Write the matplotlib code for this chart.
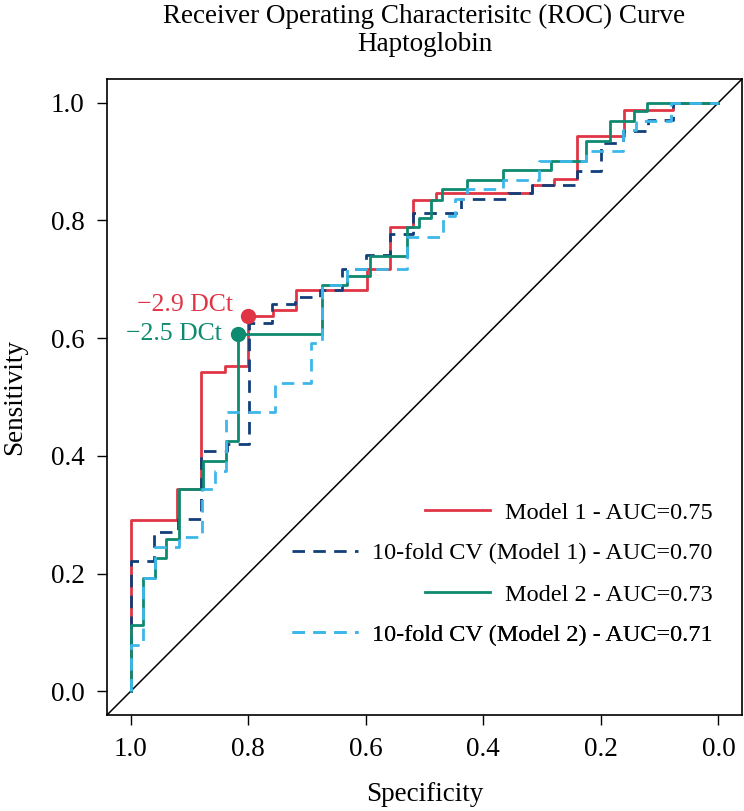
import matplotlib
matplotlib.use("Agg")
import matplotlib.pyplot as plt

plt.rcParams['font.family'] = ['Liberation Serif', 'DejaVu Serif']

# --- ROC step points (specificity, sensitivity after each step) ---
m1_spec = [1.0, 1.0, 0.921, 0.880, 0.839, 0.800, 0.758, 0.719, 0.598, 0.559, 0.519,
           0.480, 0.318, 0.279, 0.240, 0.161, 0.078, 0.0]
m1_sens = [0.0, 0.291, 0.343, 0.543, 0.553, 0.637, 0.647, 0.681, 0.717, 0.788, 0.835,
           0.847, 0.860, 0.870, 0.943, 0.988, 1.0, 1.0]

cv1_spec = [1.0, 1.0, 0.960, 0.920, 0.880, 0.836, 0.798, 0.759, 0.720, 0.677, 0.641,
            0.599, 0.559, 0.519, 0.438, 0.358, 0.318, 0.240, 0.199, 0.162, 0.120,
            0.078, 0.0]
cv1_sens = [0.0, 0.221, 0.270, 0.292, 0.409, 0.421, 0.626, 0.658, 0.669, 0.682, 0.718,
            0.741, 0.777, 0.812, 0.836, 0.847, 0.860, 0.883, 0.931, 0.952, 0.970,
            1.0, 1.0]

m2_spec = [1.0, 1.0, 0.978, 0.958, 0.939, 0.918, 0.877, 0.837, 0.817, 0.675, 0.631,
           0.593, 0.530, 0.510, 0.489, 0.470, 0.428, 0.367, 0.285, 0.225, 0.184,
           0.144, 0.122, 0.0]
m2_sens = [0.0, 0.113, 0.193, 0.227, 0.259, 0.343, 0.392, 0.426, 0.607, 0.690, 0.706,
           0.739, 0.788, 0.804, 0.835, 0.854, 0.869, 0.886, 0.900, 0.935, 0.968,
           0.985, 1.0, 1.0]

cv2_spec = [1.0, 1.0, 0.978, 0.959, 0.918, 0.878, 0.857, 0.837, 0.755, 0.693, 0.675,
            0.632, 0.530, 0.468, 0.448, 0.427, 0.366, 0.305, 0.225, 0.162, 0.140,
            0.080, 0.0]
cv2_sens = [0.0, 0.079, 0.193, 0.245, 0.262, 0.343, 0.375, 0.475, 0.524, 0.591, 0.690,
            0.718, 0.771, 0.808, 0.836, 0.853, 0.869, 0.901, 0.918, 0.954, 0.968,
            1.0, 1.0]

labels = ["Model 1 - AUC=0.75", "10-fold CV (Model 1) - AUC=0.70",
          "Model 2 - AUC=0.73", "10-fold CV (Model 2) - AUC=0.71"]
colors = ["#E03545", "#123F7A", "#0E8A70", "#3DB7EA"]

# best thresholds
cut_labels = ["\u22122.9 DCt", "\u22122.5 DCt"]
cut_spec = [0.800, 0.817]
cut_sens = [0.637, 0.607]

fig = plt.figure(figsize=(7.44, 8.11), dpi=100)
ax = fig.add_axes([107 / 744, 1 - 715 / 811, 635 / 744, 636 / 811])

ax.axline((1, 0), (0, 1), color="black", lw=1.1, zorder=1)

curves = [(m1_spec, m1_sens, "-"), (cv1_spec, cv1_sens, "--"),
          (m2_spec, m2_sens, "-"), (cv2_spec, cv2_sens, "--")]
handles = []
for (sx, sy, ls), c, lab in zip(curves, colors, labels):
    line, = ax.plot(sx, sy, drawstyle="steps-post", color=c, lw=2.0, ls=ls, label=lab)
    if ls == "--":
        line.set_dashes((4.5, 3.0))
    handles.append(line)

# threshold points
ax.plot(cut_spec[0], cut_sens[0], "o", color=colors[0], ms=10, zorder=5)
ax.plot(cut_spec[1], cut_sens[1], "o", color=colors[2], ms=10, zorder=5)
ax.annotate(cut_labels[0], (cut_spec[0], cut_sens[0]), xytext=(-11, 8),
            textcoords="offset points", ha="right", va="center",
            color=colors[0], fontsize=18.5)
ax.annotate(cut_labels[1], (cut_spec[1], cut_sens[1]), xytext=(-12, 0),
            textcoords="offset points", ha="right", va="center",
            color=colors[2], fontsize=18.5)

ax.set_xlim(1.04, -0.04)
ax.set_ylim(-0.04, 1.04)
ax.set_xticks([1.0, 0.8, 0.6, 0.4, 0.2, 0.0])
ax.set_yticks([0.0, 0.2, 0.4, 0.6, 0.8, 1.0])
ax.set_xticklabels(["1.0", "0.8", "0.6", "0.4", "0.2", "0.0"])
ax.set_yticklabels(["0.0", "0.2", "0.4", "0.6", "0.8", "1.0"])
ax.tick_params(direction="out", length=7, width=1.0, labelsize=19.5, pad=9)
for s in ax.spines.values():
    s.set_linewidth(1.2)

ax.set_xlabel("Specificity", fontsize=19.5, labelpad=14)
ax.set_ylabel("Sensitivity", fontsize=19.5, labelpad=17)
ax.set_title("Receiver Operating Characterisitc (ROC) Curve\nHaptoglobin",
             fontsize=19.5, pad=20, linespacing=1.15)

# legend: one entry per row, right aligned
rows_y = [0.318, 0.254, 0.189, 0.126]
for h, yy in zip(handles, rows_y):
    leg = ax.legend(handles=[h], loc="center right", bbox_to_anchor=(0.954, yy),
                    frameon=False, fontsize=17.5, handlelength=2.7,
                    handletextpad=0.6, borderpad=0, borderaxespad=0)
    ax.add_artist(leg)

fig.savefig("out.png", dpi=100)
